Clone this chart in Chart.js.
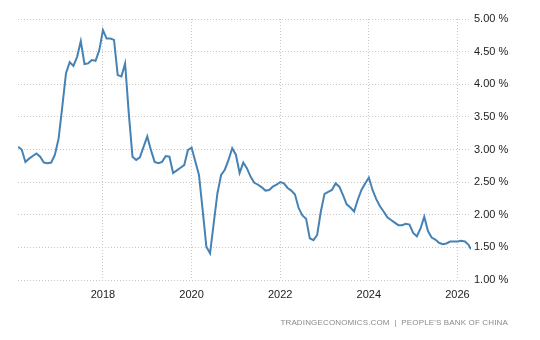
<!DOCTYPE html>
<html>
<head>
<meta charset="utf-8">
<script src="https://cdn.jsdelivr.net/npm/chart.js@4/dist/chart.umd.min.js"></script>
<style>
  html, body { margin: 0; padding: 0; background: #fff; }
  #wrap { position: relative; width: 540px; height: 340px; }
  #footer { position: absolute; right: 32px; top: 318px; font: 8px "Liberation Sans", Arial, sans-serif; color: #8a8a8a; letter-spacing: 0.15px; white-space: nowrap; }
</style>
</head>
<body>
<div id="wrap">
  <canvas id="c" width="540" height="340"></canvas>
  <div id="footer">TRADINGECONOMICS.COM &nbsp;|&nbsp; PEOPLE'S BANK OF CHINA</div>
</div>
<script>
const dates = [
  "2016-02","2016-03","2016-04","2016-05","2016-06","2016-07","2016-08","2016-09","2016-10","2016-11","2016-12",
  "2017-01","2017-02","2017-03","2017-04","2017-05","2017-06","2017-07","2017-08","2017-09","2017-10","2017-11","2017-12",
  "2018-01","2018-02","2018-03","2018-04","2018-05","2018-06","2018-07","2018-08","2018-09","2018-10","2018-11","2018-12",
  "2019-01","2019-02","2019-03","2019-04","2019-05","2019-06","2019-07","2019-08","2019-09","2019-10","2019-11","2019-12",
  "2020-01","2020-02","2020-03","2020-04","2020-05","2020-06","2020-07","2020-08","2020-09","2020-10","2020-11","2020-12",
  "2021-01","2021-02","2021-03","2021-04","2021-05","2021-06","2021-07","2021-08","2021-09","2021-10","2021-11","2021-12",
  "2022-01","2022-02","2022-03","2022-04","2022-05","2022-06","2022-07","2022-08","2022-09","2022-10","2022-11","2022-12",
  "2023-01","2023-02","2023-03","2023-04","2023-05","2023-06","2023-07","2023-08","2023-09","2023-10","2023-11","2023-12",
  "2024-01","2024-02","2024-03","2024-04","2024-05","2024-06","2024-07","2024-08","2024-09","2024-10","2024-11","2024-12",
  "2025-01","2025-02","2025-03","2025-04","2025-05","2025-06","2025-07","2025-08","2025-09","2025-10","2025-11","2025-12",
  "2026-01","2026-02","2026-03","2026-04","2026-04-21"
];
const rates = [
  3.04,3.00,2.81,2.86,2.90,2.94,2.89,2.80,2.79,2.80,2.92,
  3.17,3.66,4.17,4.34,4.28,4.42,4.66,4.31,4.32,4.37,4.36,4.52,
  4.83,4.70,4.70,4.68,4.14,4.12,4.32,3.55,2.89,2.84,2.88,3.04,
  3.20,2.99,2.81,2.79,2.81,2.90,2.89,2.64,2.68,2.72,2.76,2.99,
  3.03,2.82,2.61,2.07,1.51,1.41,1.87,2.33,2.61,2.69,2.84,3.02,
  2.92,2.64,2.80,2.71,2.58,2.49,2.46,2.42,2.37,2.38,2.43,2.46,
  2.50,2.48,2.41,2.37,2.31,2.10,1.99,1.94,1.64,1.61,1.69,2.05,
  2.32,2.35,2.38,2.48,2.43,2.30,2.16,2.11,2.05,2.23,2.38,2.48,
  2.57,2.38,2.24,2.13,2.05,1.96,1.92,1.88,1.84,1.84,1.86,1.85,
  1.72,1.67,1.79,1.97,1.75,1.65,1.62,1.57,1.55,1.56,1.59,1.59,
  1.59,1.60,1.59,1.54,1.47
];
const xTickYears = [2018, 2020, 2022, 2024, 2026];
const yTicks = [1.0, 1.5, 2.0, 2.5, 3.0, 3.5, 4.0, 4.5, 5.0];

function toYear(s) {
  const p = s.split("-").map(Number);
  const y = p[0], m = p[1], d = p.length > 2 ? p[2] : 1;
  return y + (m - 1) / 12 + (d - 1) / 365;
}
const points = dates.map((d, i) => ({ x: toYear(d), y: rates[i] }));

const font = { family: "'Liberation Sans', Arial, sans-serif", size: 11 };
const gridColor = "#c8c8c8";

new Chart(document.getElementById("c"), {
  type: "line",
  data: {
    datasets: [{
      data: points,
      borderColor: "#4682b4",
      borderWidth: 2,
      pointRadius: 0,
      tension: 0,
      fill: false
    }]
  },
  options: {
    responsive: false,
    animation: false,
    events: [],
    layout: { padding: { left: 18, top: 19, right: 0, bottom: 40 } },
    plugins: { legend: { display: false }, tooltip: { enabled: false } },
    scales: {
      x: {
        type: "linear",
        min: points[0].x,
        max: points[points.length - 1].x,
        afterBuildTicks: (s) => { s.ticks = xTickYears.map(v => ({ value: v })); },
        afterFit: (s) => { s.height = 20; },
        ticks: { font, color: "#222", padding: 8, maxRotation: 0, callback: (v) => String(v) },
        grid: { color: gridColor, drawTicks: false, lineWidth: 1 },
        border: { display: false, dash: [1, 2] }
      },
      y: {
        position: "right",
        min: 1, max: 5,
        afterBuildTicks: (s) => { s.ticks = yTicks.map(v => ({ value: v })); },
        afterFit: (s) => { s.width = 69; },
        ticks: { font, color: "#222", padding: 3, callback: (v) => v.toFixed(2) + " %" },
        grid: { color: gridColor, drawTicks: false, lineWidth: 1 },
        border: { display: false, dash: [1, 2] }
      }
    }
  }
});
</script>
</body>
</html>
